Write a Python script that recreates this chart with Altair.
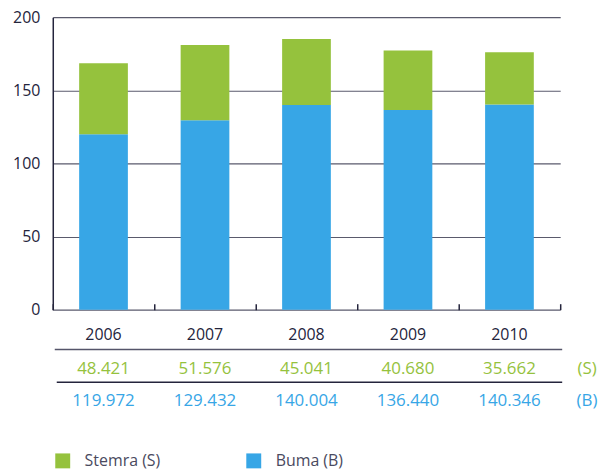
import altair as alt
import pandas as pd

years = ["2006", "2007", "2008", "2009", "2010"]
stemra = [48.421, 51.576, 45.041, 40.680, 35.662]
buma = [119.972, 129.432, 140.004, 136.440, 140.346]
series = ["Stemra (S)", "Buma (B)"]
colors = ["#95c23d", "#37a6e6"]
y_ticks = [0, 50, 100, 150, 200]

FONT = "Open Sans"
DARK = "#24243c"
W, H = 510, 294

rows = []
for i, yr in enumerate(years):
    rows.append({"year": yr, "series": series[1], "value": buma[i], "ord": 0})
    rows.append({"year": yr, "series": series[0], "value": stemra[i], "ord": 1})
df = pd.DataFrame(rows)

xscale = alt.Scale(domain=years, paddingInner=0, paddingOuter=0)
cscale = alt.Scale(domain=series, range=colors)

bars = alt.Chart(df).mark_bar(width=alt.RelativeBandSize(0.48)).encode(
    x=alt.X("year:N", scale=xscale, sort=years,
            axis=alt.Axis(title=None, labels=False, ticks=True, tickBand="extent",
                          tickSize=6, tickColor=DARK, tickWidth=1.5, offset=-6,
                          domain=False, grid=False)),
    y=alt.Y("value:Q", stack="zero", scale=alt.Scale(domain=[0, 200], nice=False),
            axis=alt.Axis(title=None, values=y_ticks, grid=True, gridColor="#5a5a6c",
                          gridWidth=1.2, ticks=False, domainColor=DARK, domainWidth=1.5,
                          labelFont=FONT, labelFontSize=16, labelColor=DARK,
                          labelPadding=13)),
    color=alt.Color("series:N", scale=cscale,
                    legend=alt.Legend(title=None, orient="none", legendX=2, legendY=438,
                                      direction="horizontal", symbolType="square",
                                      symbolSize=225, symbolStrokeWidth=0,
                                      labelFont=FONT, labelFontSize=16, labelColor="#4a4a60",
                                      labelOffset=14, columnPadding=85)),
    order=alt.Order("ord:Q"),
)

xaxis = alt.Chart(pd.DataFrame({"year": years})).mark_tick(opacity=0).encode(
    x=alt.X("year:N", scale=xscale, sort=years,
            axis=alt.Axis(title=None, labels=False, ticks=False, domain=True,
                          domainColor=DARK, domainWidth=1.5, grid=False)),
)

tbl = pd.DataFrame({"year": years, "s": stemra, "b": buma})

year_text = alt.Chart(tbl).mark_text(font=FONT, fontSize=16, fontWeight=500, color=DARK).encode(
    x=alt.X("year:N", scale=xscale, sort=years), y=alt.value(319), text="year:N")
s_text = alt.Chart(tbl).mark_text(font=FONT, fontSize=17, color=colors[0]).encode(
    x=alt.X("year:N", scale=xscale, sort=years), y=alt.value(354),
    text=alt.Text("s:Q", format=".3f"))
b_text = alt.Chart(tbl).mark_text(font=FONT, fontSize=17, color=colors[1]).encode(
    x=alt.X("year:N", scale=xscale, sort=years), y=alt.value(386),
    text=alt.Text("b:Q", format=".3f"))

tags = pd.DataFrame({"t": ["(S)", "(B)"], "c": colors, "yy": [354, 386]})
tag_text = alt.Chart(tags).mark_text(font=FONT, fontSize=17).encode(
    x=alt.value(537), y=alt.Y("yy:Q", scale=None), text="t:N",
    color=alt.Color("c:N", scale=None))

line1 = alt.Chart(pd.DataFrame({"a": [0]})).mark_rule(color="#55556a", strokeWidth=1.5).encode(
    x=alt.value(2), x2=alt.value(512), y=alt.value(334))
line2 = alt.Chart(pd.DataFrame({"a": [0]})).mark_rule(color="#24243c", strokeWidth=1.5).encode(
    x=alt.value(4), x2=alt.value(512), y=alt.value(367))

chart = alt.layer(bars, xaxis, year_text, s_text, b_text, tag_text, line1, line2).resolve_scale(
    color="independent"
).properties(
    width=W, height=H,
    autosize=alt.AutoSizeParams(type="none"),
    padding={"left": 45, "top": 8, "right": 40, "bottom": 164},
).configure_view(stroke=None)

chart.save("out.html", embed_options={"renderer": "svg", "actions": False})
